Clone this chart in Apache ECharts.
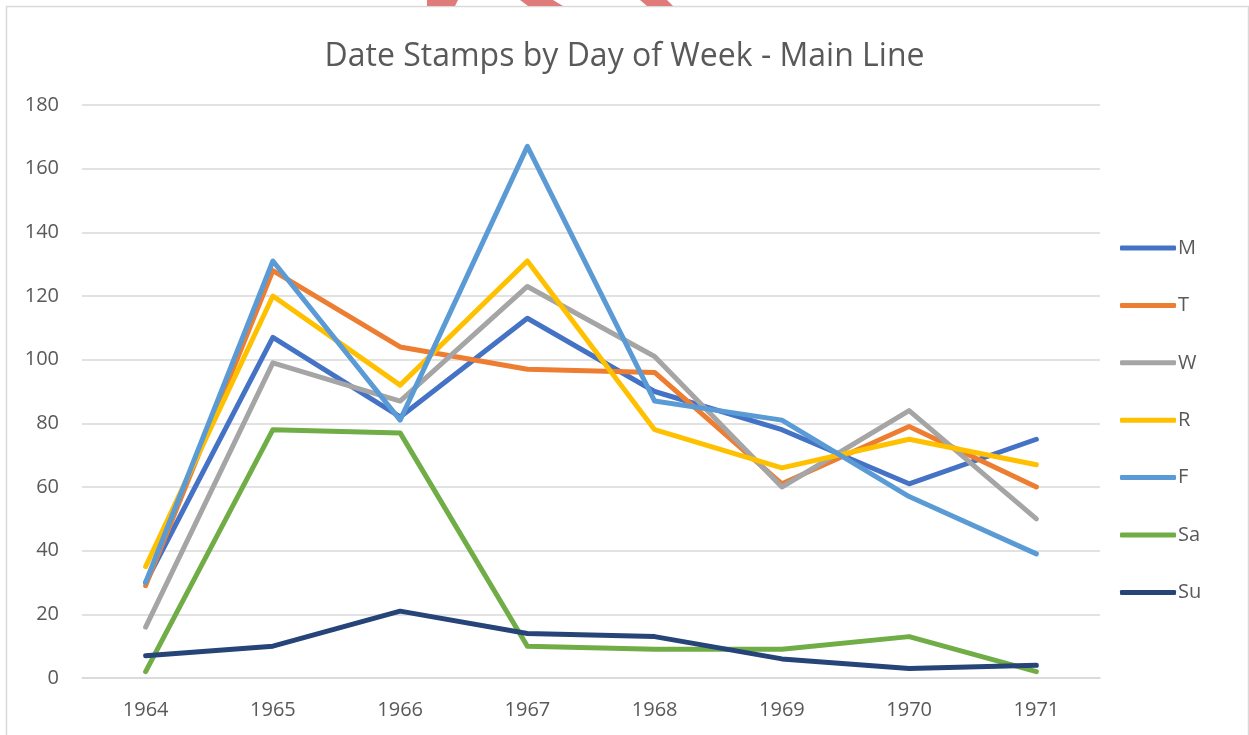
<!DOCTYPE html>
<html>
<head>
<meta charset="utf-8">
<script src="https://cdn.jsdelivr.net/npm/echarts@6/dist/echarts.min.js"></script>
<style>
  html, body { margin: 0; padding: 0; background: #fff; }
  .main { width: 1249px; height: 735px; }
</style>
</head>
<body>
<div class="main"></div>
<script>
// 数据
var years = ['1964', '1965', '1966', '1967', '1968', '1969', '1970', '1971'];
var dayNames = ['M', 'T', 'W', 'R', 'F', 'Sa', 'Su'];
var dayColors = ['#4472C4', '#ED7D31', '#A5A5A5', '#FFC000', '#5B9BD5', '#70AD47', '#264478'];
var mon = [30, 107, 82, 113, 90, 78, 61, 75];
var tue = [29, 128, 104, 97, 96, 61, 79, 60];
var wed = [16, 99, 87, 123, 101, 60, 84, 50];
var thu = [35, 120, 92, 131, 78, 66, 75, 67];
var fri = [30, 131, 81, 167, 87, 81, 57, 39];
var sat = [2, 78, 77, 10, 9, 9, 13, 2];
var sun = [7, 10, 21, 14, 13, 6, 3, 4];
var dayValues = [mon, tue, wed, thu, fri, sat, sun];

(function() {
  // 1. 实例化对象
  var myChart = echarts.init(document.querySelector(".main"));
  var font = "'Open Sans', 'Liberation Sans', sans-serif";

  var series = dayNames.map(function(name, i) {
    return {
      name: name,
      type: 'line',
      data: dayValues[i],
      symbol: 'none',
      lineStyle: { width: 5, color: dayColors[i], cap: 'round', join: 'round' },
      itemStyle: { color: dayColors[i] }
    };
  });

  // 2. 指定配置项和数据
  var option = {
    animation: false,
    title: {
      text: 'Date Stamps by Day of Week - Main Line',
      left: 'center',
      top: 36,
      textStyle: { color: '#595959', fontSize: 32, fontWeight: 'normal', fontFamily: font }
    },
    legend: {
      orient: 'vertical',
      left: 1120,
      top: 238,
      padding: 0,
      itemWidth: 56,
      itemHeight: 5,
      itemGap: 37.4,
      icon: 'roundRect',
      data: dayNames,
      textStyle: { color: '#595959', fontSize: 20, fontFamily: font, padding: [0, 0, 0, -3] }
    },
    grid: { left: 82, right: 149, top: 105, bottom: 57 },
    xAxis: {
      type: 'category',
      data: years,
      boundaryGap: true,
      axisLine: { lineStyle: { color: '#d9d9d9', width: 1.5 } },
      axisTick: { show: false },
      axisLabel: { color: '#595959', fontSize: 20, fontFamily: font, margin: 22 }
    },
    yAxis: {
      type: 'value',
      min: 0,
      max: 180,
      interval: 20,
      axisLine: { show: false },
      axisTick: { show: false },
      axisLabel: { color: '#595959', fontSize: 20, fontFamily: font, margin: 23 },
      splitLine: { lineStyle: { color: '#d9d9d9', width: 1.5 } }
    },
    graphic: [
      // 边框
      { type: 'rect', shape: { x: 6.5, y: 6.5, width: 1242, height: 740 },
        style: { fill: 'none', stroke: '#d9d9d9', lineWidth: 1.5 }, z: -1 },
      // 顶部红色残影
      { type: 'polygon', shape: { points: [[427, 0], [458, 0], [455, 6], [427, 6]] },
        style: { fill: '#e07b7b' } },
      { type: 'polygon', shape: { points: [[520, 0], [553, 0], [563, 6], [528, 6]] },
        style: { fill: '#e07b7b' } },
      { type: 'polygon', shape: { points: [[640, 0], [667, 0], [673, 6], [647, 6]] },
        style: { fill: '#e07b7b' } }
    ],
    series: series
  };
  // 3. 配置项和数据给我们的实例化对象
  myChart.setOption(option);
  // 4. 当我们浏览器缩放的时候，图表也等比例缩放
  window.addEventListener("resize", function() {
    myChart.resize();
  });
})();
</script>
</body>
</html>
